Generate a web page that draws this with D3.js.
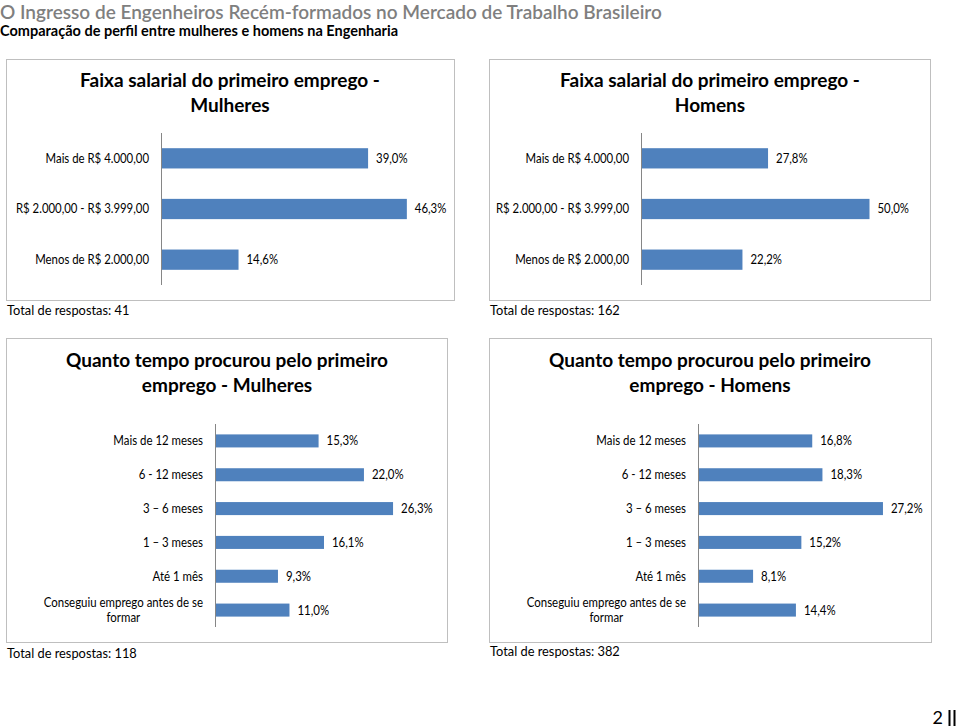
<!DOCTYPE html>
<html><head><meta charset="utf-8">
<script src="https://cdn.jsdelivr.net/npm/d3@7"></script>
<style>
body{margin:0;background:#fff;}
text{font-family:Lato,"Open Sans",sans-serif;}
</style></head>
<body><svg id="c" width="960" height="728"></svg>
<script>
const pageTitle = "O Ingresso de Engenheiros Recém-formados no Mercado de Trabalho Brasileiro";
const pageSubtitle = "Comparação de perfil entre mulheres e homens na Engenharia";
const salaryCats = ["Mais de R$ 4.000,00","R$ 2.000,00 - R$ 3.999,00","Menos de R$ 2.000,00"];
const salaryWomen = [39.0,46.3,14.6];
const salaryMen = [27.8,50.0,22.2];
const timeCats = ["Mais de 12 meses","6 - 12 meses","3 – 6 meses","1 – 3 meses","Até 1 mês","Conseguiu emprego antes de se formar"];
const timeWomen = [15.3,22.0,26.3,16.1,9.3,11.0];
const timeMen = [16.8,18.3,27.2,15.2,8.1,14.4];
const totals = [41,162,118,382];
const chartTitles = [
  ["Faixa salarial do primeiro emprego -","Mulheres"],
  ["Faixa salarial do primeiro emprego -","Homens"],
  ["Quanto tempo procurou pelo primeiro","emprego - Mulheres"],
  ["Quanto tempo procurou pelo primeiro","emprego - Homens"]
];
const pageNumber = "2";

const svg = d3.select("#c");
const fmt = v => v.toFixed(1).replace(".", ",") + "%";

// narrow a text horizontally (Calibri-like proportions)
function squeeze(sel, k){
  sel.each(function(){
    const len = this.getComputedTextLength();
    d3.select(this).attr("textLength", len*k).attr("lengthAdjust","spacingAndGlyphs");
  });
}

svg.append("text").attr("x",0).attr("y",19).attr("font-size",19).attr("font-weight",600)
  .attr("fill","#7f7f7f").text(pageTitle);
svg.append("text").attr("x",0).attr("y",36).attr("font-size",14.5).attr("font-weight",700)
  .attr("fill","#000").text(pageSubtitle);

function panel(cfg){
  const g = svg.append("g");
  g.append("rect").attr("x",cfg.box[0]+0.5).attr("y",cfg.box[1]+0.5)
    .attr("width",cfg.box[2]-cfg.box[0]).attr("height",cfg.box[3]-cfg.box[1])
    .attr("fill","#fff").attr("stroke","#bfbfbf").attr("stroke-width",1);
  cfg.title.forEach((t,i)=>{
    g.append("text").attr("x",cfg.titleX).attr("y",cfg.titleY + i*cfg.titleLH)
      .attr("text-anchor","middle").attr("font-size",cfg.titleSize).attr("font-weight",700)
      .attr("fill","#000").text(t);
  });
  const x = d3.scaleLinear().domain([0,cfg.xmax]).range([cfg.axisX, cfg.axisX + cfg.xwidth]);
  const y = d3.scaleBand().domain(cfg.cats).range([cfg.yr[0],cfg.yr[1]])
    .paddingInner(cfg.pad).paddingOuter(cfg.pad/2);
  const data = cfg.cats.map((c,i)=>({c, v: cfg.vals[i]}));
  g.selectAll("rect.bar").data(data).join("rect").attr("class","bar")
    .attr("x",x(0)).attr("y",d=>y(d.c)).attr("width",d=>x(d.v)-x(0))
    .attr("height",y.bandwidth()).attr("fill","#4f81bd");
  g.selectAll("text.val").data(data).join("text").attr("class","val")
    .attr("x",d=>x(d.v)+8).attr("y",d=>y(d.c)+y.bandwidth()/2).attr("dy","0.35em")
    .attr("font-size",cfg.vfs).attr("fill","#000").text(d=>fmt(d.v))
    .call(squeeze, cfg.sq);
  data.forEach(d=>{
    const words = d.c.split(" ");
    const lines = [];
    let cur = "";
    const tmp = g.append("text").attr("font-size",cfg.fs);
    words.forEach(w=>{
      const test = cur ? cur + " " + w : w;
      tmp.text(test);
      if (tmp.node().getComputedTextLength()*cfg.sq > cfg.wrap && cur){ lines.push(cur); cur = w; }
      else cur = test;
    });
    lines.push(cur);
    const wmax = d3.max(lines, l=>{tmp.text(l); return tmp.node().getComputedTextLength();})*cfg.sq;
    tmp.remove();
    const cy = y(d.c)+y.bandwidth()/2;
    const lh = 15;
    const xr = cfg.axisX - 12;
    lines.forEach((l,i)=>{
      g.append("text")
        .attr("x", lines.length>1 ? xr - wmax/2 : xr)
        .attr("text-anchor", lines.length>1 ? "middle" : "end")
        .attr("y", cy + (i - (lines.length-1)/2)*lh).attr("dy","0.35em")
        .attr("font-size",cfg.fs).attr("fill","#000").text(l)
        .call(squeeze, cfg.sq);
    });
  });
  g.append("line").attr("x1",cfg.axisX+0.5).attr("x2",cfg.axisX+0.5)
    .attr("y1",cfg.yr[0]).attr("y2",cfg.yr[1]).attr("stroke","#868686").attr("stroke-width",1);
  g.append("text").attr("x",cfg.totalX).attr("y",cfg.totalY).attr("font-size",13.5)
    .attr("fill","#000").text("Total de respostas: " + cfg.total).call(squeeze, 0.95);
}

panel({box:[6,59,454,300], title:chartTitles[0], titleX:230, titleY:87, titleLH:25, titleSize:19,
  cats:salaryCats, vals:salaryWomen, axisX:161, xmax:50, xwidth:265.5, yr:[133,285], pad:0.6,
  fs:12.5, vfs:12.5, sq:0.91, wrap:200, total:totals[0], totalX:7, totalY:315});
panel({box:[489,59,930,300], title:chartTitles[1], titleX:710, titleY:87, titleLH:25, titleSize:19,
  cats:salaryCats, vals:salaryMen, axisX:641, xmax:60, xwidth:274.2, yr:[133,285], pad:0.6,
  fs:12.5, vfs:12.5, sq:0.91, wrap:200, total:totals[1], totalX:490, totalY:315});
panel({box:[6,338,447,642], title:chartTitles[2], titleX:227, titleY:367, titleLH:25, titleSize:19,
  cats:timeCats, vals:timeWomen, axisX:215, xmax:30, xwidth:203.1, yr:[424,627], pad:0.615,
  fs:13, vfs:13, sq:0.88, wrap:170, total:totals[2], totalX:7, totalY:658});
panel({box:[489,338,931,642], title:chartTitles[3], titleX:710, titleY:367, titleLH:25, titleSize:19,
  cats:timeCats, vals:timeMen, axisX:698, xmax:30, xwidth:204, yr:[424,627], pad:0.615,
  fs:13, vfs:13, sq:0.88, wrap:170, total:totals[3], totalX:490, totalY:656});

svg.append("text").attr("x",943).attr("y",724).attr("text-anchor","end").attr("font-size",18)
  .attr("fill","#000").text(pageNumber);
[949.5,954.5].forEach(xx=>svg.append("line").attr("x1",xx).attr("x2",xx).attr("y1",710).attr("y2",726)
  .attr("stroke","#000").attr("stroke-width",2));
</script></body></html>
